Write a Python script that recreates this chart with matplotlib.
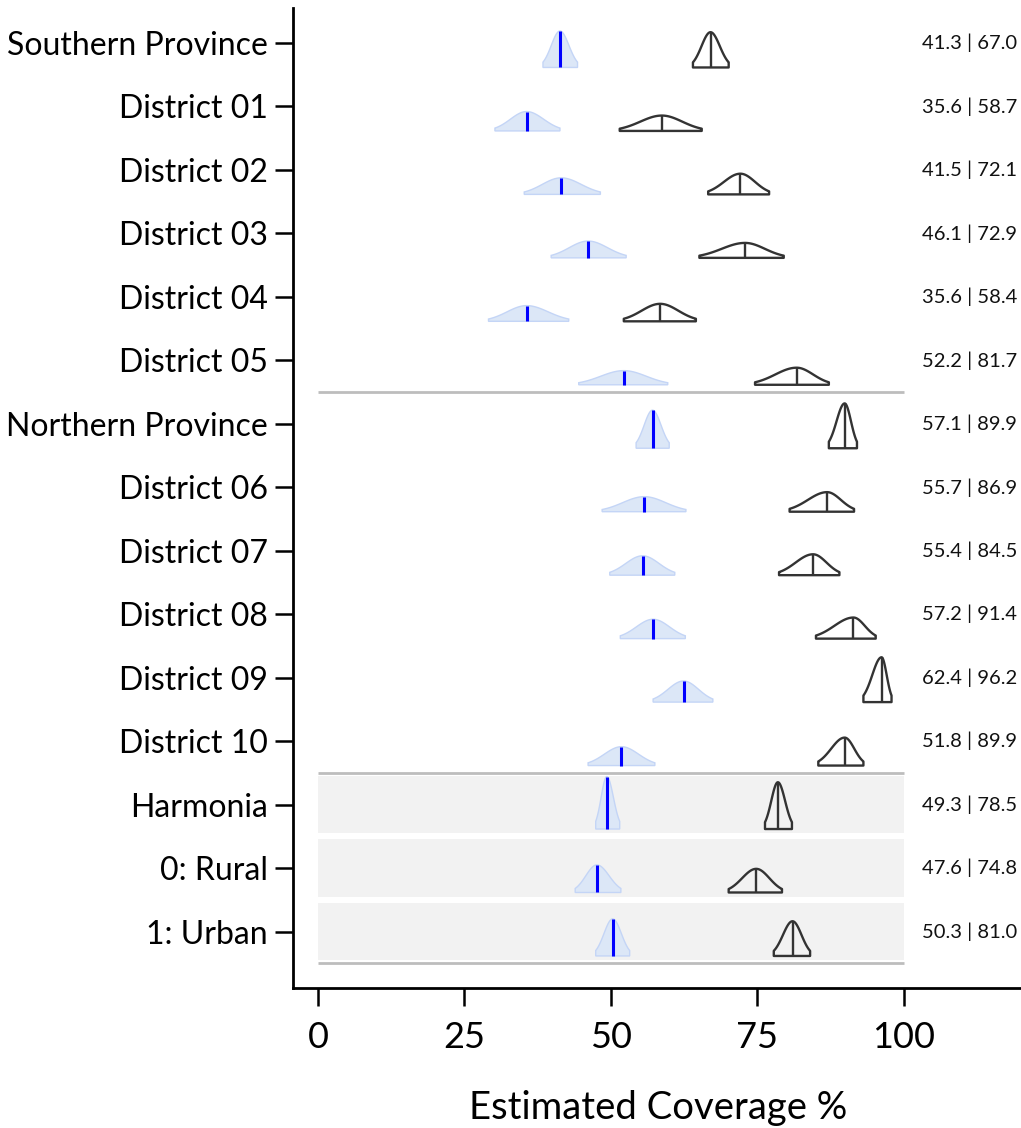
import numpy as np
import matplotlib
matplotlib.use("Agg")
import matplotlib.pyplot as plt
from matplotlib.patches import Rectangle, Polygon

plt.rcParams['font.family'] = ['Lato', 'DejaVu Sans']

labels = ["Southern Province", "District 01", "District 02", "District 03", "District 04",
          "District 05", "Northern Province", "District 06", "District 07", "District 08",
          "District 09", "District 10", "Harmonia", "0: Rural", "1: Urban"]

blue_est = [41.3, 35.6, 41.5, 46.1, 35.6, 52.2, 57.1, 55.7, 55.4, 57.2, 62.4, 51.8, 49.3, 47.6, 50.3]
blue_lo = [38.4, 30.2, 35.2, 39.8, 29.1, 44.5, 54.3, 48.5, 49.8, 51.6, 57.2, 46.1, 47.4, 43.9, 47.4]
blue_hi = [44.3, 41.3, 48.2, 52.6, 42.8, 59.7, 59.95, 62.8, 60.9, 62.7, 67.4, 57.5, 51.5, 51.7, 53.2]

black_est = [67.0, 58.7, 72.1, 72.9, 58.4, 81.7, 89.9, 86.9, 84.5, 91.4, 96.2, 89.9, 78.5, 74.8, 81.0]
black_lo = [64.0, 51.5, 66.6, 65.1, 52.2, 74.6, 87.2, 80.5, 78.7, 85.0, 93.1, 85.4, 76.3, 70.1, 77.8]
black_hi = [70.1, 65.5, 77.0, 79.5, 64.5, 87.2, 92.0, 91.5, 89.0, 95.2, 97.9, 93.1, 80.9, 79.2, 84.0]

separators = [5.5, 11.5, 14.5]
boxed_rows = [12, 13, 14]
xticks = [0, 25, 50, 75, 100]

fig = plt.figure(figsize=(10.21, 11.28), dpi=100)
ax = fig.add_axes([293/1021, 1-988/1128, 1-293/1021, (988-8)/1128])

n = len(labels)
ax.set_xlim(-4.27, 120)
ax.set_ylim(14.89, -0.552)

for r in boxed_rows:
    ax.add_patch(Rectangle((0, r-0.455), 100, 0.91, facecolor='#f2f2f2', edgecolor='none', zorder=0))
for s in separators:
    ax.plot([0, 100], [s, s], color='#bdbdbd', lw=2, zorder=1, solid_capstyle='butt')

K = 3.39
base_off = 0.385

def shape(lo, est, hi):
    xs = np.linspace(lo, hi, 200)
    sl = (est - lo) / 1.96
    sr = (hi - est) / 1.96
    sig = np.where(xs < est, sl, sr)
    h = K / (hi - lo)
    ys = h * np.exp(-0.5 * ((xs - est) / sig) ** 2)
    return xs, ys, h

for i in range(n):
    base = i + base_off
    # blue
    xs, ys, h = shape(blue_lo[i], blue_est[i], blue_hi[i])
    verts = np.column_stack([np.r_[xs, xs[-1], xs[0]], np.r_[base - ys, base, base]])
    ax.add_patch(Polygon(verts, closed=True, facecolor='#dce7f7', edgecolor='#c4d5f6', lw=1, zorder=2))
    ax.plot([blue_est[i], blue_est[i]], [base, base - h], color='#0000ff', lw=2.2, zorder=3, solid_capstyle='butt')
    # black
    xs, ys, h = shape(black_lo[i], black_est[i], black_hi[i])
    verts = np.column_stack([np.r_[xs, xs[-1], xs[0]], np.r_[base - ys, base, base]])
    ax.add_patch(Polygon(verts, closed=True, facecolor='none', edgecolor='#333333', lw=1.7, zorder=3, joinstyle='round'))
    ax.plot([black_est[i], black_est[i]], [base, base - h], color='#333333', lw=1.7, zorder=3, solid_capstyle='butt')
    ax.text(103.1, i, f"{blue_est[i]:.1f} | {black_est[i]:.1f}", ha='left', va='center',
            fontsize=14.5, color='#111111', clip_on=False)

ax.set_yticks(range(n))
ax.set_yticklabels(labels, fontsize=23)
ax.set_xticks(xticks)
ax.set_xticklabels([str(t) for t in xticks], fontsize=26)
ax.set_xlabel("Estimated Coverage %", fontsize=27.5)
ax.xaxis.set_label_coords((658 - 293) / (1021 - 293), -0.104)

for sp in ['top', 'right']:
    ax.spines[sp].set_visible(False)
for sp in ['left', 'bottom']:
    ax.spines[sp].set_linewidth(2)
    ax.spines[sp].set_color('black')
ax.tick_params(axis='both', length=13, width=1.8, direction='out', color='black')
ax.tick_params(axis='y', pad=5)
ax.tick_params(axis='x', pad=11)
ax.spines['bottom'].set_bounds(-4.27, 120)

fig.savefig("out.png", dpi=100)
